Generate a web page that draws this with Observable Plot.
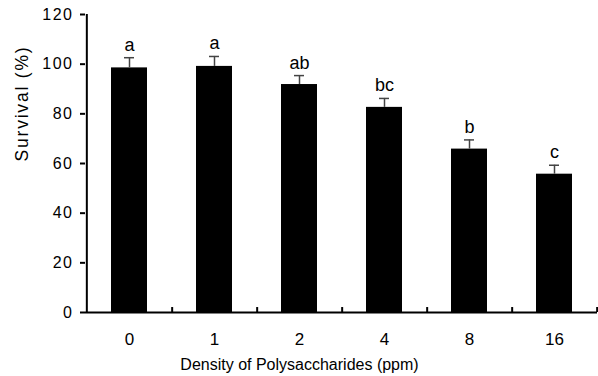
<!DOCTYPE html>
<html>
<head>
<meta charset="utf-8">
<script src="https://cdn.jsdelivr.net/npm/d3@7"></script>
<script src="https://cdn.jsdelivr.net/npm/@observablehq/plot@0.6"></script>
<style>
  html, body { margin: 0; padding: 0; background: #fff; }
  #chart svg { display: block; }
  #chart g[aria-label="y-axis tick label"] text { letter-spacing: 1.5px; }
  #chart .ytitle text { letter-spacing: 1.8px; }
</style>
</head>
<body>
<div id="chart"></div>
<script>
const categories = ["0", "1", "2", "4", "8", "16"];
const survival = [98.5, 99.1, 91.8, 82.6, 65.8, 55.7];
const errors = [4.1, 4.0, 3.6, 3.6, 3.7, 3.6];
const letters = ["a", "a", "ab", "bc", "b", "c"];
const yTicks = [0, 20, 40, 60, 80, 100, 120];
const xTitle = "Density of Polysaccharides (ppm)";
const yTitle = "Survival (%)";

const data = categories.map((c, i) => ({
  cat: c, value: survival[i], err: errors[i], top: survival[i] + errors[i], letter: letters[i]
}));

const width = 598, height = 376;
const marginLeft = 85, marginRight = 1, marginTop = 14, marginBottom = 64;
const step = (width - marginLeft - marginRight) / categories.length;

const chart = Plot.plot({
  width, height, marginLeft, marginRight, marginTop, marginBottom,
  style: { fontFamily: "'Liberation Sans', Arial, sans-serif", color: "#000", background: "#fff" },
  x: { domain: categories, paddingInner: 0.58, paddingOuter: 0.29, label: null },
  y: { domain: [0, 120], label: null },
  marks: [
    Plot.barY(data, { x: "cat", y: "value", fill: "#000" }),
    Plot.ruleX(data, { x: "cat", y1: "value", y2: "top", stroke: "#444", strokeWidth: 1.5 }),
    Plot.tickY(data, { x: "cat", y: "top", stroke: "#444", strokeWidth: 1.5, insetLeft: 13, insetRight: 13 }),
    Plot.text(data, { x: "cat", y: "top", text: "letter", dy: -7, lineAnchor: "bottom", fontSize: 18, fill: "#000" }),
    Plot.ruleY([0], { stroke: "#000", strokeWidth: 2 }),
    Plot.ruleX([categories[0]], { x: d => d, y1: 0, y2: 120, dx: -step / 2, stroke: "#000", strokeWidth: 2 }),
    Plot.ruleX(categories, { x: d => d, y1: 0, y2: 2, dx: step / 2, stroke: "#000", strokeWidth: 2 }),
    Plot.axisY({ ticks: yTicks, tickSize: 5, strokeWidth: 2, tickPadding: 7, fontSize: 16, label: null }),
    Plot.axisX({ tickSize: 0, tickPadding: 20, fontSize: 17, label: null }),
    Plot.text([xTitle], { frameAnchor: "bottom", dy: 52, dx: -(marginLeft - marginRight) / 2, lineAnchor: "middle", fontSize: 16, fill: "#000" }),
    Plot.text([yTitle], { className: "ytitle", frameAnchor: "left", dx: -63, dy: -2, rotate: -90, lineAnchor: "middle", fontSize: 17.5, fill: "#000" })
  ]
});
document.getElementById("chart").appendChild(chart);
</script>
</body>
</html>
